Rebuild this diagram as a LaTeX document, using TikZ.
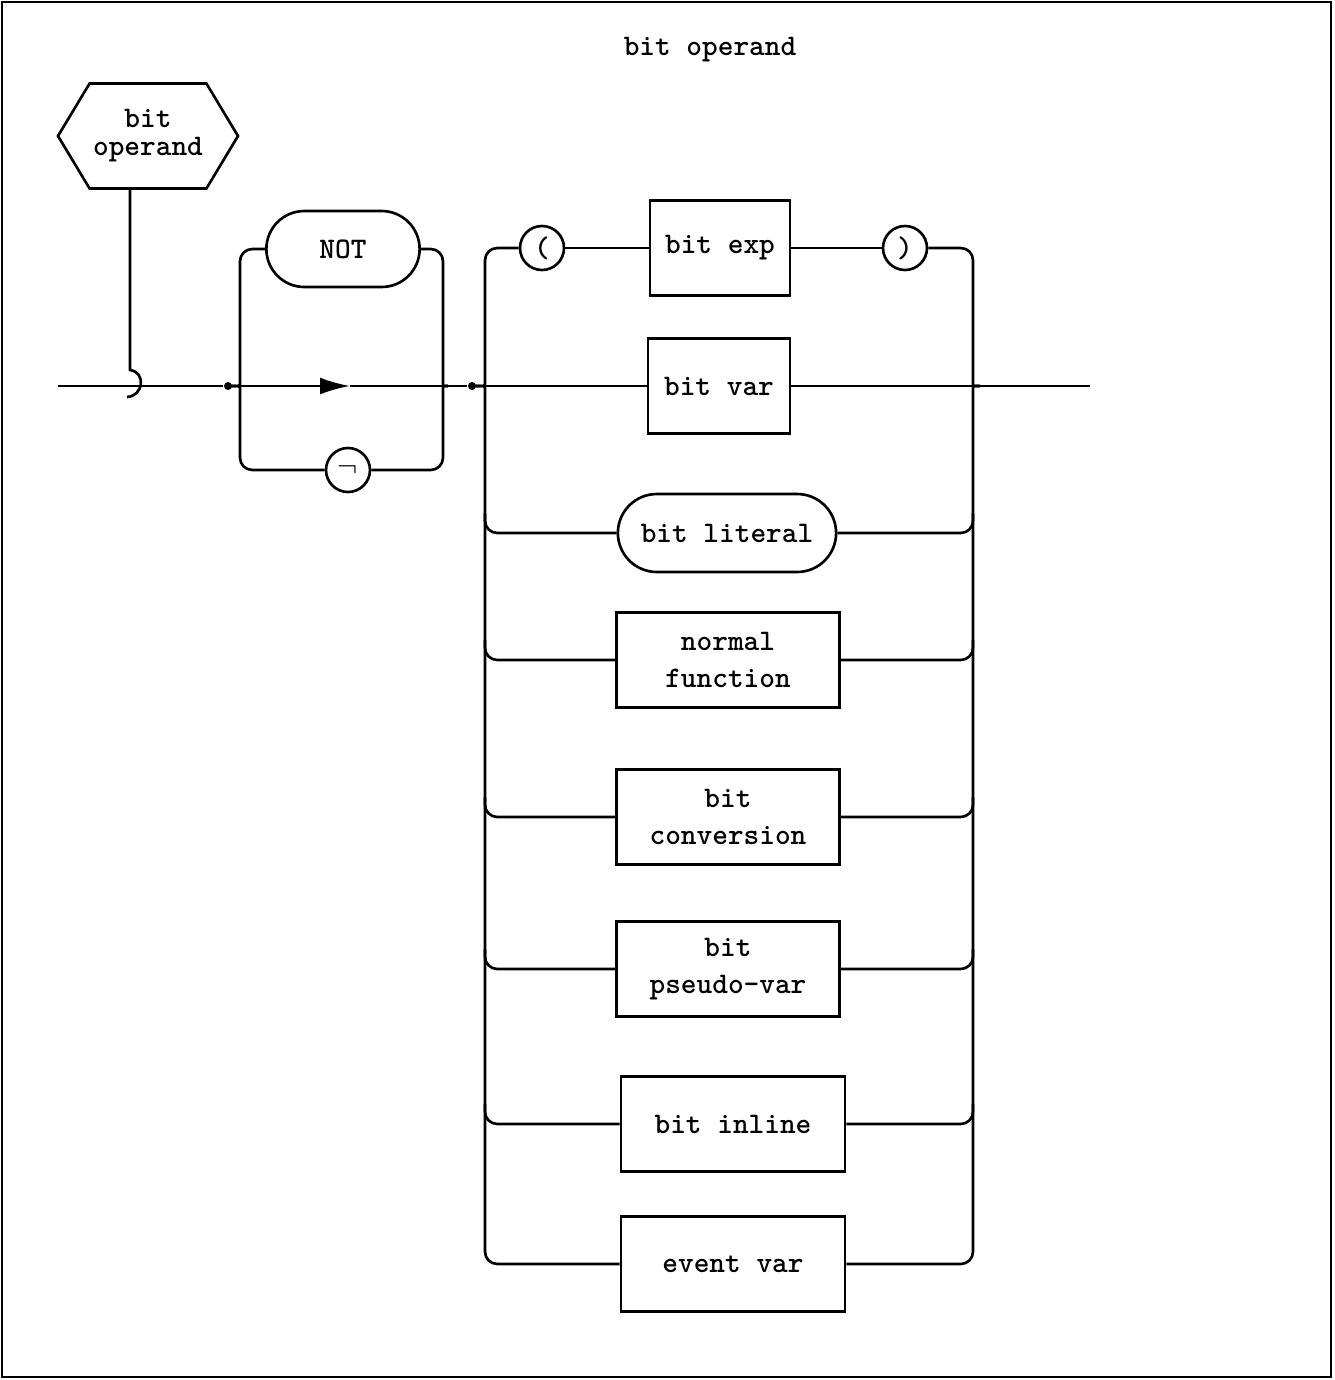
\documentclass[tikz,border=0pt]{standalone}
\usepackage{tikz}
\usetikzlibrary{arrows.meta,calc,positioning,shapes.misc,shapes.symbols}

\begin{document}
\begin{tikzpicture}[x=0.02cm,y=-0.02cm,
    font=\ttfamily\bfseries\fontsize{17}{21}\selectfont,
    line width=1.5pt,
    rc/.style={rounded corners=7pt},
    box/.style={draw,rectangle,minimum height=1.9cm,align=center,inner sep=2pt},
    pill/.style={draw,rounded rectangle,align=center},
    sym/.style={draw,circle,minimum size=0.88cm,inner sep=0pt},
    dot/.style={circle,fill,inner sep=0pt,minimum size=0.16cm}]
    % Frame and title
    \useasboundingbox (0,0) rectangle (1335,1380);
    \draw[line width=1.2pt] (2,2) rectangle (1331,1377);
    \node (title) at (710,50) {bit operand};
    % Rule name
    \node[draw,signal,signal to=east and west,signal pointer angle=118,
          minimum width=3.6cm,minimum height=2.1cm,align=center,inner sep=1pt,
          font=\ttfamily\bfseries\fontsize{17}{16}\selectfont]
          (op) at (148,136) {bit\\operand};
    % Junctions on the main line
    \coordinate (s) at (58,386);
    \coordinate (hk) at (130,386);
    \node[dot] (dA) at (228,386) {};
    \coordinate (ar) at (350,386);
    \node[dot] (dB) at (472,386) {};
    \coordinate (e) at (1090,386);
    \coordinate (l1) at (240,386);
    \coordinate (r1) at (443,386);
    \coordinate (l2) at (485,386);
    \coordinate (r2) at (973,386);
    % Optional NOT
    \node[pill,minimum width=3.3cm,minimum height=1.52cm] (not) at (343,249) {NOT};
    \node[sym] (neg) at (348,470) {$\neg$};
    % Alternatives
    \node[sym] (lp) at (542,248) {(};
    \node[box,minimum width=2.8cm] (bexp) at (720,248) {bit exp};
    \node[sym] (rp) at (905,248) {)};
    \node[box,minimum width=2.84cm] (bvar) at (719,386) {bit var};
    \node[pill,minimum width=4.6cm,minimum height=1.56cm] (lit) at (727,533) {bit literal};
    \node[box,minimum width=4.46cm] (fun) at (728,660) {normal\\function};
    \node[box,minimum width=4.46cm] (conv) at (728,817) {bit\\conversion};
    \node[box,minimum width=4.46cm] (pseudo) at (728,969) {bit\\pseudo-var};
    \node[box,minimum width=4.48cm] (inl) at (733,1124) {bit inline};
    \node[box,minimum width=4.48cm] (ev) at (733,1264) {event var};
    % Main line
    \draw (s) -- (dA);
    \draw[-{Latex[length=0.6cm,width=0.34cm]}] (dA) -- (ar);
    \draw (ar) -- (dB);
    \draw (op.south -| hk) -- ($(hk)+(0,-16)$)
        .. controls ($(hk)+(16,-14)$) and ($(hk)+(14,10)$) .. ($(hk)+(-3,11)$);
    % NOT bracket
    \draw[rc] (not.west) -| ($(l1)+(0,-14)$) .. controls (l1) .. (dA.center);
    \draw[rc] (neg.west) -| ($(l1)+(0,14)$) .. controls (l1) .. (dA.center);
    \draw[rc] (not.east) -| ($(r1)+(0,-14)$) .. controls (r1) .. ($(r1)+(5,0)$);
    \draw[rc] (neg.east) -| ($(r1)+(0,14)$) .. controls (r1) .. ($(r1)+(5,0)$);
    % Operand bracket
    \draw[rc] (lp.west) -| ($(l2)+(0,-14)$) .. controls (l2) .. (dB.center);
    \draw[rc] (ev.west) -| ($(l2)+(0,14)$) .. controls (l2) .. (dB.center);
    \draw[rc] (rp.east) -| ($(r2)+(0,-14)$) .. controls (r2) .. ($(r2)+(7,0)$);
    \draw[rc] (ev.east) -| ($(r2)+(0,14)$) .. controls (r2) .. ($(r2)+(7,0)$);
    \draw (lp) -- (bexp);
    \draw (bexp) -- (rp);
    \draw (dB) -- (bvar.west);
    \draw (bvar.east) -- (e);
    \foreach \n in {lit,fun,conv,pseudo,inl} {
        \draw[rc] (\n.west) -| ($(l2 |- \n.west)+(0,-20)$);
        \draw[rc] (\n.east) -| ($(r2 |- \n.east)+(0,-20)$);
    }
\end{tikzpicture}
\end{document}
